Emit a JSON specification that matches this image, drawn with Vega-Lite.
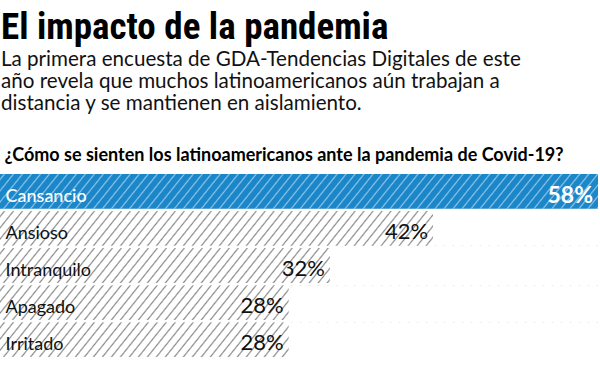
{
  "$schema": "https://vega.github.io/schema/vega-lite/v6.json",
  "width": 598,
  "height": 183,
  "autosize": {"type": "none"},
  "padding": {"left": 0, "top": 174, "right": 2, "bottom": 16},
  "background": "white",
  "title": {
    "text": "El impacto de la pandemia",
    "subtitle": ["La primera encuesta de GDA-Tendencias Digitales de este", "año revela que muchos latinoamericanos aún trabajan a", "distancia y se mantienen en aislamiento."],
    "anchor": "start",
    "frame": "group",
    "orient": "top",
    "font": "Roboto Condensed, Open Sans Condensed, DejaVu Sans Condensed, sans-serif",
    "fontSize": 37,
    "fontWeight": "bold",
    "color": "#000000",
    "dx": 1,
    "offset": 30,
    "subtitleFont": "Lato",
    "subtitleFontSize": 20.6,
    "subtitleColor": "#111111",
    "subtitleLineHeight": 22,
    "subtitlePadding": 3
  },
  "data": {"values": [
    {"feeling": "Cansancio", "pct": 58, "label": "58%"},
    {"feeling": "Ansioso", "pct": 42, "label": "42%"},
    {"feeling": "Intranquilo", "pct": 32, "label": "32%"},
    {"feeling": "Apagado", "pct": 28, "label": "28%"},
    {"feeling": "Irritado", "pct": 28, "label": "28%"}
  ]},
  "transform": [{"joinaggregate": [{"op": "max", "field": "pct", "as": "maxp"}]}],
  "encoding": {
    "y": {"field": "feeling", "type": "nominal", "sort": null, "scale": {"paddingInner": 0.06, "paddingOuter": 0},
      "axis": {"orient": "left", "ticks": false, "domain": false, "grid": false,
        "title": "¿Cómo se sienten los latinoamericanos ante la pandemia de Covid-19?",
        "titleFont": "Lato", "titleFontSize": 18, "titleFontWeight": "bold", "titleColor": "#000000",
        "titleAngle": 0, "titleAnchor": "start", "titleAlign": "left", "titleBaseline": "alphabetic", "titleX": 4, "titleY": -14, "titlePadding": 0,
        "labelAlign": "left", "labelPadding": -5, "labelBaseline": "alphabetic", "labelOffset": 10.5,
        "labelFont": "Lato", "labelFontSize": 18,
        "labelColor": {"condition": {"test": "datum.value === 'Cansancio'", "value": "#ffffff"}, "value": "#111111"},
        "labelFontWeight": {"condition": {"test": "datum.value === 'Cansancio'", "value": 500}, "value": "normal"},
        "zindex": 2}}
  },
  "layer": [
    {
      "mark": {"type": "bar", "fill": {"gradient": "linear", "x1": 0, "y1": 0, "x2": 1.5, "y2": 0.07, "stops": [
        {"offset":0.0033,"color":"#fff"},{"offset":0.005,"color":"#8c8c8c"},{"offset":0.0067,"color":"#fff"},
        {"offset":0.0133,"color":"#fff"},{"offset":0.015,"color":"#8c8c8c"},{"offset":0.0167,"color":"#fff"},
        {"offset":0.0233,"color":"#fff"},{"offset":0.025,"color":"#8c8c8c"},{"offset":0.0267,"color":"#fff"},
        {"offset":0.0333,"color":"#fff"},{"offset":0.035,"color":"#8c8c8c"},{"offset":0.0367,"color":"#fff"},
        {"offset":0.0433,"color":"#fff"},{"offset":0.045,"color":"#8c8c8c"},{"offset":0.0467,"color":"#fff"},
        {"offset":0.0533,"color":"#fff"},{"offset":0.055,"color":"#8c8c8c"},{"offset":0.0567,"color":"#fff"},
        {"offset":0.0633,"color":"#fff"},{"offset":0.065,"color":"#8c8c8c"},{"offset":0.0667,"color":"#fff"},
        {"offset":0.0733,"color":"#fff"},{"offset":0.075,"color":"#8c8c8c"},{"offset":0.0767,"color":"#fff"},
        {"offset":0.0833,"color":"#fff"},{"offset":0.085,"color":"#8c8c8c"},{"offset":0.0867,"color":"#fff"},
        {"offset":0.0933,"color":"#fff"},{"offset":0.095,"color":"#8c8c8c"},{"offset":0.0967,"color":"#fff"},
        {"offset":0.1033,"color":"#fff"},{"offset":0.105,"color":"#8c8c8c"},{"offset":0.1067,"color":"#fff"},
        {"offset":0.1133,"color":"#fff"},{"offset":0.115,"color":"#8c8c8c"},{"offset":0.1167,"color":"#fff"},
        {"offset":0.1233,"color":"#fff"},{"offset":0.125,"color":"#8c8c8c"},{"offset":0.1267,"color":"#fff"},
        {"offset":0.1333,"color":"#fff"},{"offset":0.135,"color":"#8c8c8c"},{"offset":0.1367,"color":"#fff"},
        {"offset":0.1433,"color":"#fff"},{"offset":0.145,"color":"#8c8c8c"},{"offset":0.1467,"color":"#fff"},
        {"offset":0.1533,"color":"#fff"},{"offset":0.155,"color":"#8c8c8c"},{"offset":0.1567,"color":"#fff"},
        {"offset":0.1633,"color":"#fff"},{"offset":0.165,"color":"#8c8c8c"},{"offset":0.1667,"color":"#fff"},
        {"offset":0.1733,"color":"#fff"},{"offset":0.175,"color":"#8c8c8c"},{"offset":0.1767,"color":"#fff"},
        {"offset":0.1833,"color":"#fff"},{"offset":0.185,"color":"#8c8c8c"},{"offset":0.1867,"color":"#fff"},
        {"offset":0.1933,"color":"#fff"},{"offset":0.195,"color":"#8c8c8c"},{"offset":0.1967,"color":"#fff"},
        {"offset":0.2033,"color":"#fff"},{"offset":0.205,"color":"#8c8c8c"},{"offset":0.2067,"color":"#fff"},
        {"offset":0.2133,"color":"#fff"},{"offset":0.215,"color":"#8c8c8c"},{"offset":0.2167,"color":"#fff"},
        {"offset":0.2233,"color":"#fff"},{"offset":0.225,"color":"#8c8c8c"},{"offset":0.2267,"color":"#fff"},
        {"offset":0.2333,"color":"#fff"},{"offset":0.235,"color":"#8c8c8c"},{"offset":0.2367,"color":"#fff"},
        {"offset":0.2433,"color":"#fff"},{"offset":0.245,"color":"#8c8c8c"},{"offset":0.2467,"color":"#fff"},
        {"offset":0.2533,"color":"#fff"},{"offset":0.255,"color":"#8c8c8c"},{"offset":0.2567,"color":"#fff"},
        {"offset":0.2633,"color":"#fff"},{"offset":0.265,"color":"#8c8c8c"},{"offset":0.2667,"color":"#fff"},
        {"offset":0.2733,"color":"#fff"},{"offset":0.275,"color":"#8c8c8c"},{"offset":0.2767,"color":"#fff"},
        {"offset":0.2833,"color":"#fff"},{"offset":0.285,"color":"#8c8c8c"},{"offset":0.2867,"color":"#fff"},
        {"offset":0.2933,"color":"#fff"},{"offset":0.295,"color":"#8c8c8c"},{"offset":0.2967,"color":"#fff"},
        {"offset":0.3033,"color":"#fff"},{"offset":0.305,"color":"#8c8c8c"},{"offset":0.3067,"color":"#fff"},
        {"offset":0.3133,"color":"#fff"},{"offset":0.315,"color":"#8c8c8c"},{"offset":0.3167,"color":"#fff"},
        {"offset":0.3233,"color":"#fff"},{"offset":0.325,"color":"#8c8c8c"},{"offset":0.3267,"color":"#fff"},
        {"offset":0.3333,"color":"#fff"},{"offset":0.335,"color":"#8c8c8c"},{"offset":0.3367,"color":"#fff"},
        {"offset":0.3433,"color":"#fff"},{"offset":0.345,"color":"#8c8c8c"},{"offset":0.3467,"color":"#fff"},
        {"offset":0.3533,"color":"#fff"},{"offset":0.355,"color":"#8c8c8c"},{"offset":0.3567,"color":"#fff"},
        {"offset":0.3633,"color":"#fff"},{"offset":0.365,"color":"#8c8c8c"},{"offset":0.3667,"color":"#fff"},
        {"offset":0.3733,"color":"#fff"},{"offset":0.375,"color":"#8c8c8c"},{"offset":0.3767,"color":"#fff"},
        {"offset":0.3833,"color":"#fff"},{"offset":0.385,"color":"#8c8c8c"},{"offset":0.3867,"color":"#fff"},
        {"offset":0.3933,"color":"#fff"},{"offset":0.395,"color":"#8c8c8c"},{"offset":0.3967,"color":"#fff"},
        {"offset":0.4033,"color":"#fff"},{"offset":0.405,"color":"#8c8c8c"},{"offset":0.4067,"color":"#fff"},
        {"offset":0.4133,"color":"#fff"},{"offset":0.415,"color":"#8c8c8c"},{"offset":0.4167,"color":"#fff"},
        {"offset":0.4233,"color":"#fff"},{"offset":0.425,"color":"#8c8c8c"},{"offset":0.4267,"color":"#fff"},
        {"offset":0.4333,"color":"#fff"},{"offset":0.435,"color":"#8c8c8c"},{"offset":0.4367,"color":"#fff"},
        {"offset":0.4433,"color":"#fff"},{"offset":0.445,"color":"#8c8c8c"},{"offset":0.4467,"color":"#fff"},
        {"offset":0.4533,"color":"#fff"},{"offset":0.455,"color":"#8c8c8c"},{"offset":0.4567,"color":"#fff"},
        {"offset":0.4633,"color":"#fff"},{"offset":0.465,"color":"#8c8c8c"},{"offset":0.4667,"color":"#fff"},
        {"offset":0.4733,"color":"#fff"},{"offset":0.475,"color":"#8c8c8c"},{"offset":0.4767,"color":"#fff"},
        {"offset":0.4833,"color":"#fff"},{"offset":0.485,"color":"#8c8c8c"},{"offset":0.4867,"color":"#fff"},
        {"offset":0.4933,"color":"#fff"},{"offset":0.495,"color":"#8c8c8c"},{"offset":0.4967,"color":"#fff"},
        {"offset":0.5033,"color":"#fff"},{"offset":0.505,"color":"#8c8c8c"},{"offset":0.5067,"color":"#fff"},
        {"offset":0.5133,"color":"#fff"},{"offset":0.515,"color":"#8c8c8c"},{"offset":0.5167,"color":"#fff"},
        {"offset":0.5233,"color":"#fff"},{"offset":0.525,"color":"#8c8c8c"},{"offset":0.5267,"color":"#fff"},
        {"offset":0.5333,"color":"#fff"},{"offset":0.535,"color":"#8c8c8c"},{"offset":0.5367,"color":"#fff"},
        {"offset":0.5433,"color":"#fff"},{"offset":0.545,"color":"#8c8c8c"},{"offset":0.5467,"color":"#fff"},
        {"offset":0.5533,"color":"#fff"},{"offset":0.555,"color":"#8c8c8c"},{"offset":0.5567,"color":"#fff"},
        {"offset":0.5633,"color":"#fff"},{"offset":0.565,"color":"#8c8c8c"},{"offset":0.5667,"color":"#fff"},
        {"offset":0.5733,"color":"#fff"},{"offset":0.575,"color":"#8c8c8c"},{"offset":0.5767,"color":"#fff"},
        {"offset":0.5833,"color":"#fff"},{"offset":0.585,"color":"#8c8c8c"},{"offset":0.5867,"color":"#fff"},
        {"offset":0.5933,"color":"#fff"},{"offset":0.595,"color":"#8c8c8c"},{"offset":0.5967,"color":"#fff"},
        {"offset":0.6033,"color":"#fff"},{"offset":0.605,"color":"#8c8c8c"},{"offset":0.6067,"color":"#fff"},
        {"offset":0.6133,"color":"#fff"},{"offset":0.615,"color":"#8c8c8c"},{"offset":0.6167,"color":"#fff"},
        {"offset":0.6233,"color":"#fff"},{"offset":0.625,"color":"#8c8c8c"},{"offset":0.6267,"color":"#fff"},
        {"offset":0.6333,"color":"#fff"},{"offset":0.635,"color":"#8c8c8c"},{"offset":0.6367,"color":"#fff"},
        {"offset":0.6433,"color":"#fff"},{"offset":0.645,"color":"#8c8c8c"},{"offset":0.6467,"color":"#fff"},
        {"offset":0.6533,"color":"#fff"},{"offset":0.655,"color":"#8c8c8c"},{"offset":0.6567,"color":"#fff"},
        {"offset":0.6633,"color":"#fff"},{"offset":0.665,"color":"#8c8c8c"},{"offset":0.6667,"color":"#fff"},
        {"offset":0.6733,"color":"#fff"},{"offset":0.675,"color":"#8c8c8c"},{"offset":0.6767,"color":"#fff"},
        {"offset":0.6833,"color":"#fff"},{"offset":0.685,"color":"#8c8c8c"},{"offset":0.6867,"color":"#fff"},
        {"offset":0.6933,"color":"#fff"},{"offset":0.695,"color":"#8c8c8c"},{"offset":0.6967,"color":"#fff"}
      ]}},
      "encoding": {
        "x": {"field": "maxp", "type": "quantitative", "scale": {"domain": [0, 58], "nice": false, "zero": true}, "axis": null}
      }
    },
    {
      "mark": {"type": "rect", "fill": "#ffffff"},
      "encoding": {
        "x": {"field": "pct", "type": "quantitative", "axis": null},
        "x2": {"field": "maxp"}
      }
    },
    {
      "transform": [{"filter": "datum.feeling === 'Cansancio'"}],
      "mark": {"type": "bar", "fill": {"gradient": "linear", "x1": 0, "y1": 0, "x2": 1.5, "y2": 0.07, "stops": [
        {"offset":0.0033,"color":"#1b86c8"},{"offset":0.005,"color":"#8cc4ea"},{"offset":0.0067,"color":"#1b86c8"},
        {"offset":0.0133,"color":"#1b86c8"},{"offset":0.015,"color":"#8cc4ea"},{"offset":0.0167,"color":"#1b86c8"},
        {"offset":0.0233,"color":"#1b86c8"},{"offset":0.025,"color":"#8cc4ea"},{"offset":0.0267,"color":"#1b86c8"},
        {"offset":0.0333,"color":"#1b86c8"},{"offset":0.035,"color":"#8cc4ea"},{"offset":0.0367,"color":"#1b86c8"},
        {"offset":0.0433,"color":"#1b86c8"},{"offset":0.045,"color":"#8cc4ea"},{"offset":0.0467,"color":"#1b86c8"},
        {"offset":0.0533,"color":"#1b86c8"},{"offset":0.055,"color":"#8cc4ea"},{"offset":0.0567,"color":"#1b86c8"},
        {"offset":0.0633,"color":"#1b86c8"},{"offset":0.065,"color":"#8cc4ea"},{"offset":0.0667,"color":"#1b86c8"},
        {"offset":0.0733,"color":"#1b86c8"},{"offset":0.075,"color":"#8cc4ea"},{"offset":0.0767,"color":"#1b86c8"},
        {"offset":0.0833,"color":"#1b86c8"},{"offset":0.085,"color":"#8cc4ea"},{"offset":0.0867,"color":"#1b86c8"},
        {"offset":0.0933,"color":"#1b86c8"},{"offset":0.095,"color":"#8cc4ea"},{"offset":0.0967,"color":"#1b86c8"},
        {"offset":0.1033,"color":"#1b86c8"},{"offset":0.105,"color":"#8cc4ea"},{"offset":0.1067,"color":"#1b86c8"},
        {"offset":0.1133,"color":"#1b86c8"},{"offset":0.115,"color":"#8cc4ea"},{"offset":0.1167,"color":"#1b86c8"},
        {"offset":0.1233,"color":"#1b86c8"},{"offset":0.125,"color":"#8cc4ea"},{"offset":0.1267,"color":"#1b86c8"},
        {"offset":0.1333,"color":"#1b86c8"},{"offset":0.135,"color":"#8cc4ea"},{"offset":0.1367,"color":"#1b86c8"},
        {"offset":0.1433,"color":"#1b86c8"},{"offset":0.145,"color":"#8cc4ea"},{"offset":0.1467,"color":"#1b86c8"},
        {"offset":0.1533,"color":"#1b86c8"},{"offset":0.155,"color":"#8cc4ea"},{"offset":0.1567,"color":"#1b86c8"},
        {"offset":0.1633,"color":"#1b86c8"},{"offset":0.165,"color":"#8cc4ea"},{"offset":0.1667,"color":"#1b86c8"},
        {"offset":0.1733,"color":"#1b86c8"},{"offset":0.175,"color":"#8cc4ea"},{"offset":0.1767,"color":"#1b86c8"},
        {"offset":0.1833,"color":"#1b86c8"},{"offset":0.185,"color":"#8cc4ea"},{"offset":0.1867,"color":"#1b86c8"},
        {"offset":0.1933,"color":"#1b86c8"},{"offset":0.195,"color":"#8cc4ea"},{"offset":0.1967,"color":"#1b86c8"},
        {"offset":0.2033,"color":"#1b86c8"},{"offset":0.205,"color":"#8cc4ea"},{"offset":0.2067,"color":"#1b86c8"},
        {"offset":0.2133,"color":"#1b86c8"},{"offset":0.215,"color":"#8cc4ea"},{"offset":0.2167,"color":"#1b86c8"},
        {"offset":0.2233,"color":"#1b86c8"},{"offset":0.225,"color":"#8cc4ea"},{"offset":0.2267,"color":"#1b86c8"},
        {"offset":0.2333,"color":"#1b86c8"},{"offset":0.235,"color":"#8cc4ea"},{"offset":0.2367,"color":"#1b86c8"},
        {"offset":0.2433,"color":"#1b86c8"},{"offset":0.245,"color":"#8cc4ea"},{"offset":0.2467,"color":"#1b86c8"},
        {"offset":0.2533,"color":"#1b86c8"},{"offset":0.255,"color":"#8cc4ea"},{"offset":0.2567,"color":"#1b86c8"},
        {"offset":0.2633,"color":"#1b86c8"},{"offset":0.265,"color":"#8cc4ea"},{"offset":0.2667,"color":"#1b86c8"},
        {"offset":0.2733,"color":"#1b86c8"},{"offset":0.275,"color":"#8cc4ea"},{"offset":0.2767,"color":"#1b86c8"},
        {"offset":0.2833,"color":"#1b86c8"},{"offset":0.285,"color":"#8cc4ea"},{"offset":0.2867,"color":"#1b86c8"},
        {"offset":0.2933,"color":"#1b86c8"},{"offset":0.295,"color":"#8cc4ea"},{"offset":0.2967,"color":"#1b86c8"},
        {"offset":0.3033,"color":"#1b86c8"},{"offset":0.305,"color":"#8cc4ea"},{"offset":0.3067,"color":"#1b86c8"},
        {"offset":0.3133,"color":"#1b86c8"},{"offset":0.315,"color":"#8cc4ea"},{"offset":0.3167,"color":"#1b86c8"},
        {"offset":0.3233,"color":"#1b86c8"},{"offset":0.325,"color":"#8cc4ea"},{"offset":0.3267,"color":"#1b86c8"},
        {"offset":0.3333,"color":"#1b86c8"},{"offset":0.335,"color":"#8cc4ea"},{"offset":0.3367,"color":"#1b86c8"},
        {"offset":0.3433,"color":"#1b86c8"},{"offset":0.345,"color":"#8cc4ea"},{"offset":0.3467,"color":"#1b86c8"},
        {"offset":0.3533,"color":"#1b86c8"},{"offset":0.355,"color":"#8cc4ea"},{"offset":0.3567,"color":"#1b86c8"},
        {"offset":0.3633,"color":"#1b86c8"},{"offset":0.365,"color":"#8cc4ea"},{"offset":0.3667,"color":"#1b86c8"},
        {"offset":0.3733,"color":"#1b86c8"},{"offset":0.375,"color":"#8cc4ea"},{"offset":0.3767,"color":"#1b86c8"},
        {"offset":0.3833,"color":"#1b86c8"},{"offset":0.385,"color":"#8cc4ea"},{"offset":0.3867,"color":"#1b86c8"},
        {"offset":0.3933,"color":"#1b86c8"},{"offset":0.395,"color":"#8cc4ea"},{"offset":0.3967,"color":"#1b86c8"},
        {"offset":0.4033,"color":"#1b86c8"},{"offset":0.405,"color":"#8cc4ea"},{"offset":0.4067,"color":"#1b86c8"},
        {"offset":0.4133,"color":"#1b86c8"},{"offset":0.415,"color":"#8cc4ea"},{"offset":0.4167,"color":"#1b86c8"},
        {"offset":0.4233,"color":"#1b86c8"},{"offset":0.425,"color":"#8cc4ea"},{"offset":0.4267,"color":"#1b86c8"},
        {"offset":0.4333,"color":"#1b86c8"},{"offset":0.435,"color":"#8cc4ea"},{"offset":0.4367,"color":"#1b86c8"},
        {"offset":0.4433,"color":"#1b86c8"},{"offset":0.445,"color":"#8cc4ea"},{"offset":0.4467,"color":"#1b86c8"},
        {"offset":0.4533,"color":"#1b86c8"},{"offset":0.455,"color":"#8cc4ea"},{"offset":0.4567,"color":"#1b86c8"},
        {"offset":0.4633,"color":"#1b86c8"},{"offset":0.465,"color":"#8cc4ea"},{"offset":0.4667,"color":"#1b86c8"},
        {"offset":0.4733,"color":"#1b86c8"},{"offset":0.475,"color":"#8cc4ea"},{"offset":0.4767,"color":"#1b86c8"},
        {"offset":0.4833,"color":"#1b86c8"},{"offset":0.485,"color":"#8cc4ea"},{"offset":0.4867,"color":"#1b86c8"},
        {"offset":0.4933,"color":"#1b86c8"},{"offset":0.495,"color":"#8cc4ea"},{"offset":0.4967,"color":"#1b86c8"},
        {"offset":0.5033,"color":"#1b86c8"},{"offset":0.505,"color":"#8cc4ea"},{"offset":0.5067,"color":"#1b86c8"},
        {"offset":0.5133,"color":"#1b86c8"},{"offset":0.515,"color":"#8cc4ea"},{"offset":0.5167,"color":"#1b86c8"},
        {"offset":0.5233,"color":"#1b86c8"},{"offset":0.525,"color":"#8cc4ea"},{"offset":0.5267,"color":"#1b86c8"},
        {"offset":0.5333,"color":"#1b86c8"},{"offset":0.535,"color":"#8cc4ea"},{"offset":0.5367,"color":"#1b86c8"},
        {"offset":0.5433,"color":"#1b86c8"},{"offset":0.545,"color":"#8cc4ea"},{"offset":0.5467,"color":"#1b86c8"},
        {"offset":0.5533,"color":"#1b86c8"},{"offset":0.555,"color":"#8cc4ea"},{"offset":0.5567,"color":"#1b86c8"},
        {"offset":0.5633,"color":"#1b86c8"},{"offset":0.565,"color":"#8cc4ea"},{"offset":0.5667,"color":"#1b86c8"},
        {"offset":0.5733,"color":"#1b86c8"},{"offset":0.575,"color":"#8cc4ea"},{"offset":0.5767,"color":"#1b86c8"},
        {"offset":0.5833,"color":"#1b86c8"},{"offset":0.585,"color":"#8cc4ea"},{"offset":0.5867,"color":"#1b86c8"},
        {"offset":0.5933,"color":"#1b86c8"},{"offset":0.595,"color":"#8cc4ea"},{"offset":0.5967,"color":"#1b86c8"},
        {"offset":0.6033,"color":"#1b86c8"},{"offset":0.605,"color":"#8cc4ea"},{"offset":0.6067,"color":"#1b86c8"},
        {"offset":0.6133,"color":"#1b86c8"},{"offset":0.615,"color":"#8cc4ea"},{"offset":0.6167,"color":"#1b86c8"},
        {"offset":0.6233,"color":"#1b86c8"},{"offset":0.625,"color":"#8cc4ea"},{"offset":0.6267,"color":"#1b86c8"},
        {"offset":0.6333,"color":"#1b86c8"},{"offset":0.635,"color":"#8cc4ea"},{"offset":0.6367,"color":"#1b86c8"},
        {"offset":0.6433,"color":"#1b86c8"},{"offset":0.645,"color":"#8cc4ea"},{"offset":0.6467,"color":"#1b86c8"},
        {"offset":0.6533,"color":"#1b86c8"},{"offset":0.655,"color":"#8cc4ea"},{"offset":0.6567,"color":"#1b86c8"},
        {"offset":0.6633,"color":"#1b86c8"},{"offset":0.665,"color":"#8cc4ea"},{"offset":0.6667,"color":"#1b86c8"},
        {"offset":0.6733,"color":"#1b86c8"},{"offset":0.675,"color":"#8cc4ea"},{"offset":0.6767,"color":"#1b86c8"},
        {"offset":0.6833,"color":"#1b86c8"},{"offset":0.685,"color":"#8cc4ea"},{"offset":0.6867,"color":"#1b86c8"},
        {"offset":0.6933,"color":"#1b86c8"},{"offset":0.695,"color":"#8cc4ea"},{"offset":0.6967,"color":"#1b86c8"}
      ]}},
      "encoding": {
        "x": {"field": "pct", "type": "quantitative", "axis": null}
      }
    },
    {
      "transform": [{"filter": "datum.feeling === 'Cansancio'"}],
      "mark": {"type": "text", "align": "right", "baseline": "alphabetic", "dx": -5, "dy": 11.5, "font": "Lato", "fontSize": 23, "fontWeight": "bold", "color": "#ffffff"},
      "encoding": {"x": {"field": "pct", "type": "quantitative", "axis": null}, "text": {"field": "label"}}
    },
    {
      "transform": [{"filter": "datum.feeling !== 'Cansancio'"}],
      "mark": {"type": "text", "align": "right", "baseline": "alphabetic", "dx": -5, "dy": 10.5, "font": "Lato", "fontSize": 22, "fontWeight": "normal", "color": "#111111"},
      "encoding": {"x": {"field": "pct", "type": "quantitative", "axis": null}, "text": {"field": "label"}}
    }
  ],
  "config": {"view": {"stroke": null}}
}
